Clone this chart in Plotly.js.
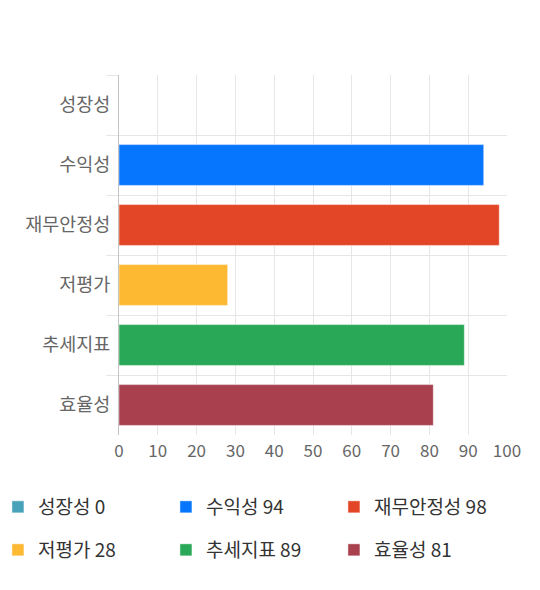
<!DOCTYPE html>
<html>
<head>
<meta charset="utf-8">
<script src="https://cdn.plot.ly/plotly-3.0.1.min.js"></script>
<style>
  html, body { margin: 0; padding: 0; background: #fff; }
  #chart { width: 540px; height: 590px; }
</style>
</head>
<body>
<div id="chart"></div>
<script>
// categories and scores, top to bottom
const categories = ['성장성', '수익성', '재무안정성', '저평가', '추세지표', '효율성'];
const scores = [0, 94, 98, 28, 89, 81];
const barColors = ['#48a2ba', '#0776fe', '#e34626', '#fdb932', '#29a857', '#a8404e'];
const xTicks = [0, 10, 20, 30, 40, 50, 60, 70, 80, 90, 100];

const font = '"Noto Sans CJK KR", "Noto Sans", sans-serif';

const traces = categories.map((cat, i) => ({
  type: 'bar',
  orientation: 'h',
  y: [cat],
  x: [scores[i]],
  name: cat + ' ' + scores[i],
  width: 0.68,
  marker: {
    color: barColors[i],
    line: { color: 'rgba(255,255,255,0.45)', width: 1 }
  },
  legend: i < 3 ? 'legend' : 'legend2',
  hoverinfo: 'x+y'
}));

// plot area is 119..507 px wide, 75..435 px tall
const legendBase = {
  orientation: 'h',
  xanchor: 'left',
  yanchor: 'middle',
  x: -0.312,
  entrywidth: 123,
  entrywidthmode: 'pixels',
  font: { family: font, size: 19, color: '#333' },
  itemclick: false,
  itemdoubleclick: false
};

const layout = {
  width: 540,
  height: 590,
  margin: { l: 119, r: 33, t: 75, b: 155, autoexpand: false },
  paper_bgcolor: '#fff',
  plot_bgcolor: '#fff',
  font: { family: font, color: '#666' },
  barmode: 'overlay',
  showlegend: true,
  xaxis: {
    range: [0, 100],
    tickmode: 'array',
    tickvals: xTicks,
    showgrid: true,
    gridcolor: '#e6e6e6',
    gridwidth: 1,
    zeroline: false,
    showline: false,
    ticks: '',
    ticklabelstandoff: 4,
    automargin: false,
    tickfont: { family: font, size: 17, color: '#666' },
    fixedrange: true
  },
  yaxis: {
    type: 'category',
    categoryorder: 'array',
    categoryarray: categories,
    range: [5.5, -0.5],
    tickson: 'boundaries',
    ticks: 'outside',
    ticklen: 12,
    tickcolor: '#e6e6e6',
    ticklabelstandoff: 4,
    showgrid: true,
    gridcolor: '#e6e6e6',
    gridwidth: 1,
    showline: true,
    linecolor: '#c4c4c4',
    linewidth: 1,
    zeroline: false,
    automargin: false,
    tickfont: { family: font, size: 18.5, color: '#666' },
    fixedrange: true
  },
  legend: Object.assign({}, legendBase, { y: (435 - 507) / 360 }),
  legend2: Object.assign({}, legendBase, { y: (435 - 550) / 360 })
};

Plotly.newPlot('chart', traces, layout, { displayModeBar: false, staticPlot: true });
</script>
</body>
</html>
